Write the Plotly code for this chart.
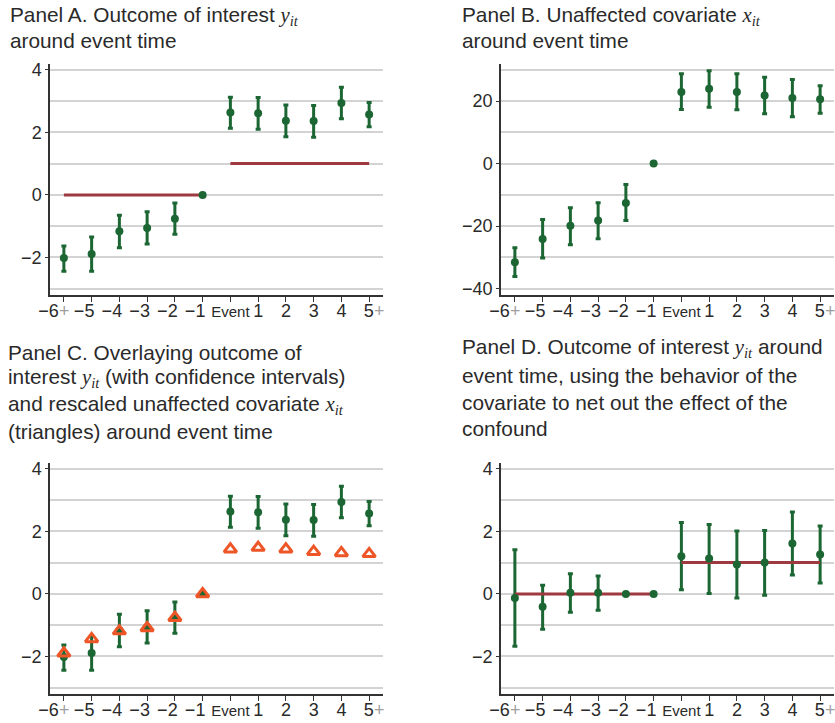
import plotly.graph_objects as go

W, H = 835, 723

# ---------------- data ----------------
event_labels = ["−6+", "−5", "−4", "−3", "−2", "−1", "Event", "1", "2", "3", "4", "5+"]
positions = list(range(len(event_labels)))

# Panel A / C: outcome of interest y_it (point estimate and 95% CI)
y_est = [-2.02, -1.89, -1.16, -1.06, -0.76, 0.0, 2.63, 2.61, 2.37, 2.36, 2.94, 2.57]
y_lo = [-2.44, -2.44, -1.69, -1.57, -1.26, None, 2.13, 2.10, 1.86, 1.84, 2.43, 2.18]
y_hi = [-1.63, -1.35, -0.65, -0.54, -0.26, None, 3.12, 3.11, 2.87, 2.86, 3.44, 2.95]

# Panel B: unaffected covariate x_it
x_est = [-31.5, -24.1, -19.9, -18.2, -12.6, 0.0, 22.9, 23.9, 22.9, 21.8, 21.0, 20.6]
x_lo = [-36.1, -30.2, -25.9, -24.0, -18.2, None, 17.3, 18.0, 17.2, 15.9, 15.0, 16.1]
x_hi = [-26.9, -17.9, -14.1, -12.5, -6.7, None, 28.7, 29.7, 28.7, 27.6, 26.9, 24.9]

# Panel C: rescaled covariate (triangles)
x_rescaled = [-1.90, -1.44, -1.19, -1.09, -0.76, 0.0, 1.43, 1.48, 1.43, 1.35, 1.31, 1.28]

# Panel D: outcome net of confound
d_est = [-0.13, -0.41, 0.04, 0.04, 0.0, 0.0, 1.20, 1.13, 0.94, 1.00, 1.61, 1.26]
d_lo = [-1.67, -1.13, -0.59, -0.52, None, None, 0.13, 0.01, -0.13, -0.04, 0.60, 0.35]
d_hi = [1.41, 0.28, 0.64, 0.57, None, None, 2.28, 2.22, 2.01, 2.03, 2.62, 2.17]

# True effect reference lines
pre_positions = positions[:6]
post_positions = positions[6:]
pre_effect = [0, 0, 0, 0, 0, 0]
post_effect = [1, 1, 1, 1, 1, 1]

# ---------------- style ----------------
GREEN = "#1b6632"
RED = "#9e3a3f"
ORANGE = "#ee5527"
GRID = "#d3d3d3"
AXIS = "#333333"
TXT = "#2a2a2a"
FONT = "Liberation Sans"

NB = "\u00a0"
PLUS = "<span style='color:#a0a0a0'>+</span>"
tick_text = []
for lab in event_labels:
    if lab == "Event":
        tick_text.append("<span style='font-size:15px'>Event</span>")
    elif lab == "−6+":
        tick_text.append("−6" + PLUS + NB * 4)
    elif lab.endswith("+"):
        tick_text.append(NB * 2 + lab[:-1] + PLUS)
    elif lab.startswith("−"):
        tick_text.append(lab + NB * 3)
    else:
        tick_text.append(lab)


def err(est, lo, hi):
    up = [None if h is None else h - e for e, h in zip(est, hi)]
    dn = [None if l is None else e - l for e, l in zip(est, lo)]
    return up, dn


fig = go.Figure()

# domains in pixels
L1, R1 = 50, 383
L2, R2 = 501, 834
T_top, B_top = 63.5, 295
T_bot, B_bot = 462.5, 694

panels = {
    1: ((L1, R1), (T_top, B_top)),
    2: ((L2, R2), (T_top, B_top)),
    3: ((L1, R1), (T_bot, B_bot)),
    4: ((L2, R2), (T_bot, B_bot)),
}


def ax_names(i):
    return ("x" if i == 1 else f"x{i}"), ("y" if i == 1 else f"y{i}")


def add_ci(i, est, lo, hi):
    xa, ya = ax_names(i)
    up, dn = err(est, lo, hi)
    fig.add_trace(go.Scatter(
        x=positions, y=est, xaxis=xa, yaxis=ya, mode="markers",
        marker=dict(size=1, color="rgba(0,0,0,0)"),
        error_y=dict(type="data", symmetric=False, array=up, arrayminus=dn,
                     color=GREEN, thickness=3, width=2.5),
        showlegend=False, hoverinfo="skip"))


def add_points(i, est):
    xa, ya = ax_names(i)
    fig.add_trace(go.Scatter(
        x=positions, y=est, xaxis=xa, yaxis=ya, mode="markers",
        marker=dict(size=8, color=GREEN), showlegend=False, hoverinfo="skip"))


def add_ref(i):
    xa, ya = ax_names(i)
    for xs, ys in ((pre_positions, pre_effect), (post_positions, post_effect)):
        fig.add_trace(go.Scatter(
            x=xs, y=ys, xaxis=xa, yaxis=ya, mode="lines",
            line=dict(color=RED, width=3), showlegend=False, hoverinfo="skip"))


# Panel A
add_ci(1, y_est, y_lo, y_hi)
add_ref(1)
add_points(1, y_est)
# Panel B
add_ci(2, x_est, x_lo, x_hi)
add_points(2, x_est)
# Panel C
add_ci(3, y_est, y_lo, y_hi)
add_points(3, y_est)
fig.add_trace(go.Scatter(
    x=positions, y=x_rescaled, xaxis="x3", yaxis="y3", mode="markers",
    marker=dict(symbol="triangle-up-open", size=11, color=ORANGE,
                line=dict(width=3, color=ORANGE)),
    showlegend=False, hoverinfo="skip"))
# Panel D
add_ci(4, d_est, d_lo, d_hi)
add_ref(4)
add_points(4, d_est)

layout = dict(
    width=W, height=H, margin=dict(l=0, r=0, t=0, b=0, autoexpand=False),
    paper_bgcolor="white", plot_bgcolor="white", showlegend=False,
    font=dict(family=FONT, color=TXT), hovermode=False,
)

for i, ((l, r), (t, b)) in panels.items():
    xk = "xaxis" if i == 1 else f"xaxis{i}"
    yk = "yaxis" if i == 1 else f"yaxis{i}"
    xa, ya = ax_names(i)
    if i == 2:
        yr, dt, mdt = [-42, 32], 20, 10
    else:
        yr, dt, mdt = [-3.2, 4.2], 2, 1
    layout[xk] = dict(
        domain=[l / W, r / W], anchor=ya, range=[-0.5, 11.5],
        tickmode="array", tickvals=positions, ticktext=tick_text,
        tickangle=0, automargin=False, ticklabeloverflow="allow",
        ticklabelstandoff=-6,
        ticks="outside", ticklen=5, tickwidth=1.2, tickcolor=AXIS,
        showline=True, linecolor=AXIS, linewidth=1.5,
        showgrid=False, zeroline=False,
        tickfont=dict(family=FONT, size=18, color=TXT),
    )
    layout[yk] = dict(
        domain=[1 - b / H, 1 - t / H], anchor=xa, range=yr, automargin=False,
        tick0=0, dtick=dt, ticks="outside", ticklen=3, tickwidth=1.2,
        tickcolor=AXIS, showline=True, linecolor=AXIS, linewidth=1.5,
        showgrid=True, gridcolor=GRID, gridwidth=1.5, zeroline=False,
        tickfont=dict(family=FONT, size=18, color=TXT),
        minor=dict(dtick=mdt, showgrid=True, gridcolor=GRID, gridwidth=1.5, ticks=""),
    )

fig.update_layout(**layout)

YIT = "<span style=\"font-family:'Liberation Serif';font-style:italic\">y<sub>it</sub></span>"
XIT = "<span style=\"font-family:'Liberation Serif';font-style:italic\">x<sub>it</sub></span>"

titles = [
    (8, 16, f"Panel A. Outcome of interest {YIT}"),
    (8, 40, "around event time"),
    (460, 16, f"Panel B. Unaffected covariate {XIT}"),
    (460, 40, "around event time"),
    (6, 352, "Panel C. Overlaying outcome of"),
    (6, 378, f"interest {YIT} (with confidence intervals)"),
    (6, 405, f"and rescaled unaffected covariate {XIT}"),
    (6, 431, "(triangles) around event time"),
    (460, 348, f"Panel D. Outcome of interest {YIT} around"),
    (460, 375, "event time, using the behavior of the"),
    (460, 402, "covariate to net out the effect of the"),
    (460, 428, "confound"),
]
for px, py, txt in titles:
    fig.add_annotation(
        x=px / W, y=1 - py / H, xref="paper", yref="paper",
        xanchor="left", yanchor="middle", showarrow=False, text=txt,
        font=dict(family=FONT, size=20.8, color=TXT), align="left")

fig.write_html("out.html", config={"displayModeBar": False},
               post_script="document.body.style.margin='0';document.body.style.padding='0';")
